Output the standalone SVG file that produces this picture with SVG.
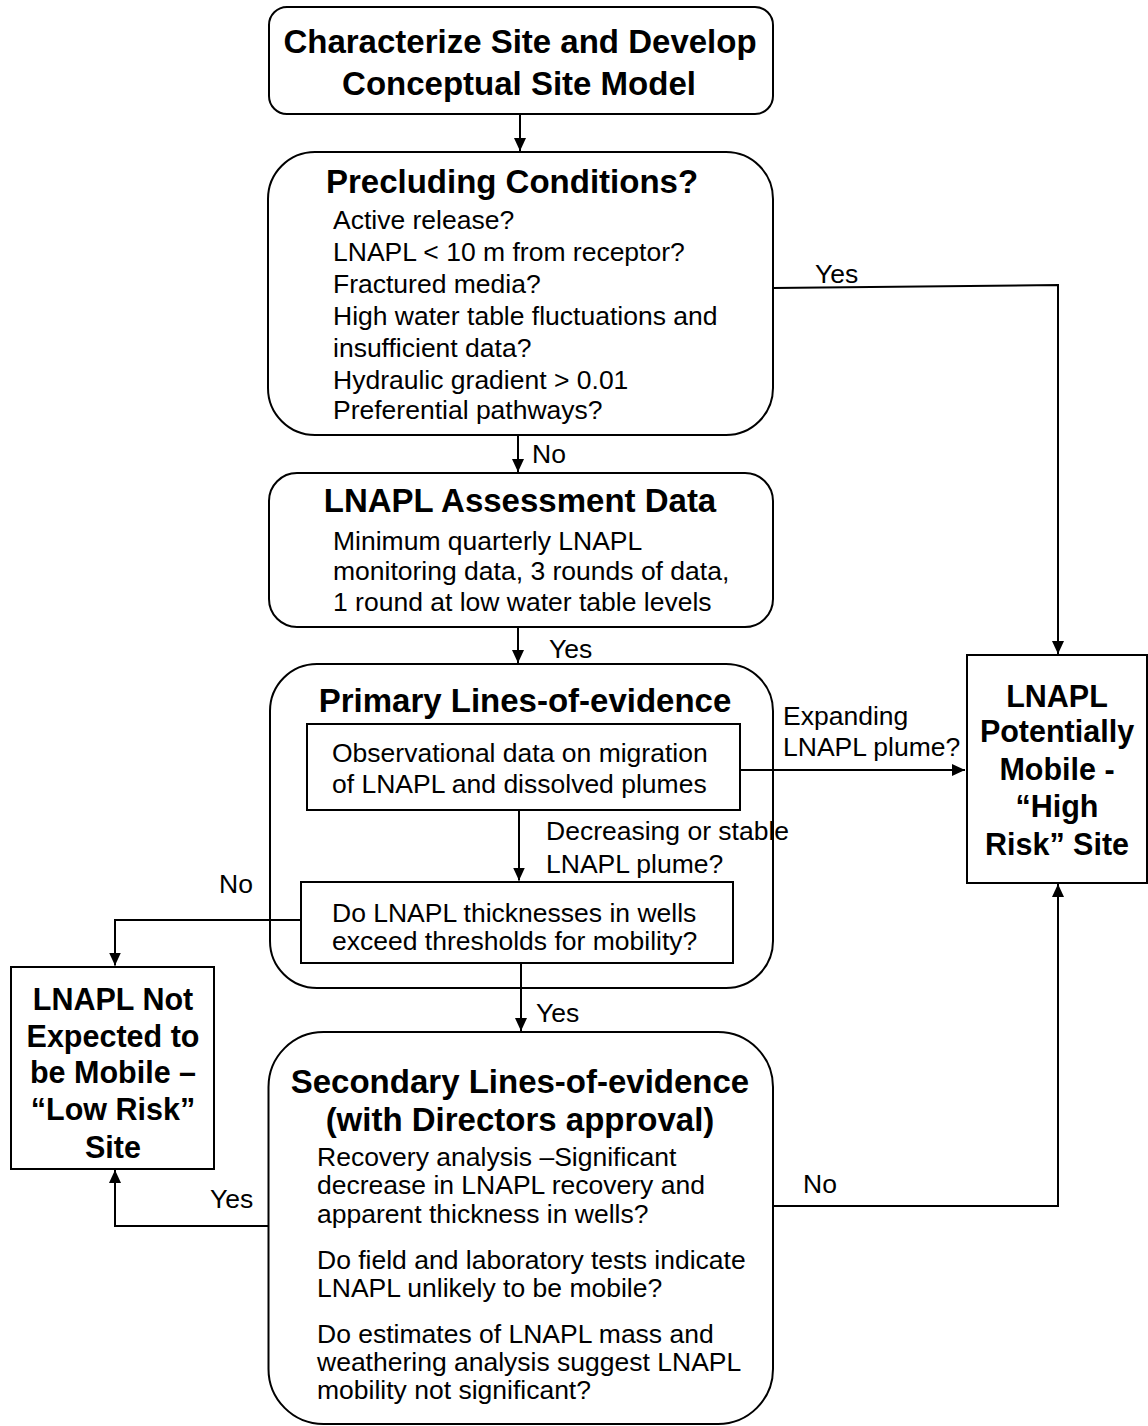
<svg xmlns="http://www.w3.org/2000/svg" width="1148" height="1426" viewBox="0 0 1148 1426">
<style>
.box{fill:#fff;stroke:#000;stroke-width:2}
.t{font-family:"Liberation Sans",Arial,sans-serif;font-weight:bold;font-size:33px;fill:#000;text-anchor:middle}
.tr{font-family:"Liberation Sans",Arial,sans-serif;font-weight:bold;font-size:30.5px;fill:#000;text-anchor:middle}
.b{font-family:"Liberation Sans",Arial,sans-serif;font-size:26.5px;fill:#000}
.c{fill:none;stroke:#000;stroke-width:2}
</style>
<defs>
<marker id="ah" markerUnits="userSpaceOnUse" markerWidth="14" markerHeight="12" refX="13" refY="6" orient="auto">
<path d="M0,0 L13,6 L0,12 z" fill="#000"/>
</marker>
</defs>
<rect width="1148" height="1426" fill="#fff"/>

<g id="node-characterize">
<rect class="box" x="269" y="7" width="504" height="107" rx="18"/>
<text class="t" x="520" y="53">Characterize Site and Develop</text>
<text class="t" x="519" y="95">Conceptual Site Model</text>
</g>

<g id="node-precluding">
<rect class="box" x="268" y="152" width="505" height="283" rx="47"/>
<text class="t" x="512" y="193">Precluding Conditions?</text>
<text class="b" x="333" y="229">Active release?</text>
<text class="b" x="333" y="261">LNAPL &lt; 10 m from receptor?</text>
<text class="b" x="333" y="293">Fractured media?</text>
<text class="b" x="333" y="325">High water table fluctuations and</text>
<text class="b" x="333" y="357">insufficient data?</text>
<text class="b" x="333" y="389">Hydraulic gradient &gt; 0.01</text>
<text class="b" x="333" y="419">Preferential pathways?</text>
</g>

<g id="node-assessment">
<rect class="box" x="269" y="473" width="504" height="154" rx="28"/>
<text class="t" x="520" y="512">LNAPL Assessment Data</text>
<text class="b" x="333" y="550">Minimum quarterly LNAPL</text>
<text class="b" x="333" y="580">monitoring data, 3 rounds of data,</text>
<text class="b" x="333" y="611">1 round at low water table levels</text>
</g>

<g id="node-primary">
<rect class="box" x="270" y="664" width="503" height="324" rx="47"/>
<text class="t" x="525" y="712">Primary Lines-of-evidence</text>
</g>

<g id="node-observational">
<rect class="box" x="307" y="724" width="433" height="86"/>
<text class="b" x="332" y="762">Observational data on migration</text>
<text class="b" x="332" y="793">of LNAPL and dissolved plumes</text>
</g>

<g id="node-thickness">
<rect class="box" x="301" y="882" width="432" height="81"/>
<text class="b" x="332" y="922">Do LNAPL thicknesses in wells</text>
<text class="b" x="332" y="950">exceed thresholds for mobility?</text>
</g>

<g id="node-secondary">
<rect class="box" x="268.5" y="1032" width="504.5" height="392" rx="55"/>
<text class="t" x="520" y="1093">Secondary Lines-of-evidence</text>
<text class="t" x="520" y="1131">(with Directors approval)</text>
<text class="b" x="317" y="1166">Recovery analysis –Significant</text>
<text class="b" x="317" y="1194">decrease in LNAPL recovery and</text>
<text class="b" x="317" y="1223">apparent thickness in wells?</text>
<text class="b" x="317" y="1269">Do field and laboratory tests indicate</text>
<text class="b" x="317" y="1297">LNAPL unlikely to be mobile?</text>
<text class="b" x="317" y="1343">Do estimates of LNAPL mass and</text>
<text class="b" x="317" y="1371">weathering analysis suggest LNAPL</text>
<text class="b" x="317" y="1399">mobility not significant?</text>
</g>

<g id="node-high-risk">
<rect class="box" x="967" y="655" width="180" height="228"/>
<text class="tr" x="1057" y="707">LNAPL</text>
<text class="tr" x="1057" y="742">Potentially</text>
<text class="tr" x="1057" y="780">Mobile -</text>
<text class="tr" x="1057" y="817">“High</text>
<text class="tr" x="1057" y="855">Risk” Site</text>
</g>

<g id="node-low-risk">
<rect class="box" x="11" y="967" width="203" height="202"/>
<text class="tr" x="113" y="1010">LNAPL Not</text>
<text class="tr" x="113" y="1047">Expected to</text>
<text class="tr" x="113" y="1083">be Mobile –</text>
<text class="tr" x="113" y="1120">“Low Risk”</text>
<text class="tr" x="113" y="1158">Site</text>
</g>

<g id="connectors">
<line class="c" x1="520" y1="114" x2="520" y2="151" marker-end="url(#ah)"/>
<polyline class="c" points="773,288 1058,285 1058,654" marker-end="url(#ah)"/>
<line class="c" x1="518" y1="435" x2="518" y2="472" marker-end="url(#ah)"/>
<line class="c" x1="518" y1="627" x2="518" y2="663" marker-end="url(#ah)"/>
<polyline class="c" points="740,770 965,770" marker-end="url(#ah)"/>
<line class="c" x1="519" y1="810" x2="519" y2="880.5" marker-end="url(#ah)"/>
<polyline class="c" points="301,920 115,920 115,965.5" marker-end="url(#ah)"/>
<line class="c" x1="521" y1="963" x2="521" y2="1031" marker-end="url(#ah)"/>
<polyline class="c" points="268.5,1226 115,1226 115,1170" marker-end="url(#ah)"/>
<polyline class="c" points="773,1206 1058,1206 1058,884" marker-end="url(#ah)"/>
</g>
<g id="edge-labels">
<text class="b" x="815" y="283">Yes</text>
<text class="b" x="532" y="463">No</text>
<text class="b" x="549" y="658">Yes</text>
<text class="b" x="783" y="725">Expanding</text>
<text class="b" x="783" y="756">LNAPL plume?</text>
<text class="b" x="546" y="840">Decreasing or stable</text>
<text class="b" x="546" y="873">LNAPL plume?</text>
<text class="b" x="219" y="893">No</text>
<text class="b" x="536" y="1022">Yes</text>
<text class="b" x="210" y="1208">Yes</text>
<text class="b" x="803" y="1193">No</text>
</g>
</svg>
